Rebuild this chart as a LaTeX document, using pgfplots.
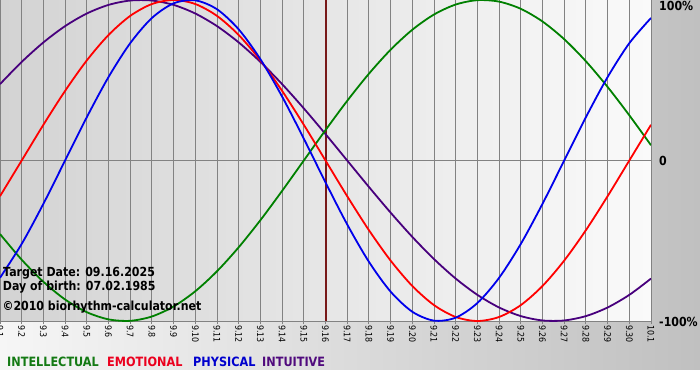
\documentclass[border=0pt]{standalone}
\usepackage{fontspec}
\setmainfont{DejaVu Sans}[FakeStretch=0.88]
\usepackage{pgfplots}
\usepackage{pgfplotstable}
\pgfplotsset{compat=1.18}
\definecolor{cint}{RGB}{0,128,0}
\definecolor{cemo}{RGB}{255,0,0}
\definecolor{cphy}{RGB}{0,0,235}
\definecolor{citu}{RGB}{72,0,125}
\definecolor{cint2}{RGB}{20,122,20}
\definecolor{cemo2}{RGB}{235,0,30}
\definecolor{cphy2}{RGB}{0,0,205}
\definecolor{citu2}{RGB}{80,10,125}
\definecolor{outerL}{RGB}{246,246,246}
\definecolor{outerR}{RGB}{192,192,192}
\definecolor{plotL}{RGB}{211,211,211}
\definecolor{plotR}{RGB}{250,250,250}
\definecolor{gridc}{RGB}{130,130,130}
\definecolor{target}{RGB}{120,25,25}

\pgfplotstableread{
i phy emo int itu
0 -0.7308 -0.2225 -0.4582 0.4759
1 -0.5197 0.0000 -0.6182 0.6142
2 -0.2698 0.2225 -0.7557 0.7357
3 0.0000 0.4339 -0.8660 0.8372
4 0.2698 0.6235 -0.9450 0.9158
5 0.5197 0.7818 -0.9898 0.9694
6 0.7308 0.9010 -0.9989 0.9966
7 0.8879 0.9749 -0.9718 0.9966
8 0.9791 1.0000 -0.9096 0.9694
9 0.9977 0.9749 -0.8146 0.9158
10 0.9423 0.9010 -0.6901 0.8372
11 0.8170 0.7818 -0.5406 0.7357
12 0.6310 0.6235 -0.3717 0.6142
13 0.3984 0.4339 -0.1893 0.4759
14 0.1362 0.2225 0.0000 0.3247
15 -0.1362 0.0000 0.1893 0.1646
16 -0.3984 -0.2225 0.3717 0.0000
17 -0.6310 -0.4339 0.5406 -0.1646
18 -0.8170 -0.6235 0.6901 -0.3247
19 -0.9423 -0.7818 0.8146 -0.4759
20 -0.9977 -0.9010 0.9096 -0.6142
21 -0.9791 -0.9749 0.9718 -0.7357
22 -0.8879 -1.0000 0.9989 -0.8372
23 -0.7308 -0.9749 0.9898 -0.9158
24 -0.5197 -0.9010 0.9450 -0.9694
25 -0.2698 -0.7818 0.8660 -0.9966
26 0.0000 -0.6235 0.7557 -0.9966
27 0.2698 -0.4339 0.6182 -0.9694
28 0.5197 -0.2225 0.4582 -0.9158
29 0.7308 0.0000 0.2817 -0.8372
30 0.8879 0.2225 0.0951 -0.7357
}\bio

\begin{document}
\begin{tikzpicture}
\useasboundingbox (0pt,-59pt) rectangle (700pt,321pt);
\shade[left color=outerL, right color=outerR] (0pt,-49pt) rectangle (700pt,321pt);
\fill[white] (0pt,-59pt) rectangle (700pt,-49pt);
\shade[left color=plotL, right color=plotR] (0pt,0pt) rectangle (651pt,321pt);
\begin{axis}[
  at={(0pt,0pt)}, anchor=south west,
  scale only axis, width=651pt, height=321pt,
  xmin=0, xmax=30, ymin=-1, ymax=1,
  axis x line*=bottom, axis y line*=left,
  x axis line style={draw=gridc, line width=1pt, -},
  y axis line style={draw=none},
  xtick={0,...,30},
  xticklabels={9.1,9.2,9.3,9.4,9.5,9.6,9.7,9.8,9.9,9.10,9.11,9.12,9.13,9.14,9.15,9.16,9.17,9.18,9.19,9.20,9.21,9.22,9.23,9.24,9.25,9.26,9.27,9.28,9.29,9.30,10.1},
  xticklabel style={rotate=-90, anchor=west, inner sep=1pt, font=\fontsize{9}{10}\selectfont},
  tick align=outside, major tick length=3pt,
  xtick style={draw=gridc, line width=1pt},
  ytick={0}, yticklabels={}, ytick style={draw=none},
  xmajorgrids, ymajorgrids,
  major grid style={draw=gridc, line width=1pt},
  clip=true,
]
\addplot[target, line width=2pt] coordinates {(15,-1) (15,1)};
\addplot[citu, line width=1.8pt, smooth] table[x=i, y=itu] {\bio};
\addplot[cint, line width=1.8pt, smooth] table[x=i, y=int] {\bio};
\addplot[cemo, line width=1.8pt, smooth] table[x=i, y=emo] {\bio};
\addplot[cphy, line width=1.8pt, smooth] table[x=i, y=phy] {\bio};
\end{axis}
\begin{scope}[every node/.style={inner sep=0pt, anchor=base west, font=\bfseries\fontsize{12.5}{14}\selectfont}]
\node at (3pt,45pt) {Target Date: 09.16.2025};
\node at (2.7pt,30.5pt) {Day of birth: 07.02.1985};
\node at (2.3pt,10.3pt) {©2010 biorhythm-calculator.net};
\node at (659pt,310.7pt) {100\%};
\node at (659pt,155.3pt) {0};
\node at (659pt,-5pt) {-100\%};
\end{scope}
\begin{scope}[every node/.style={inner sep=0pt, anchor=base west, font=\bfseries\fontsize{12.8}{14}\selectfont}]
\node[text=cint2] at (7pt,-45.7pt) {INTELLECTUAL};
\node[text=cemo2] at (107pt,-45.7pt) {EMOTIONAL};
\node[text=cphy2] at (193pt,-45.7pt) {PHYSICAL};
\node[text=citu2] at (262pt,-45.7pt) {INTUITIVE};
\end{scope}
\end{tikzpicture}
\end{document}
